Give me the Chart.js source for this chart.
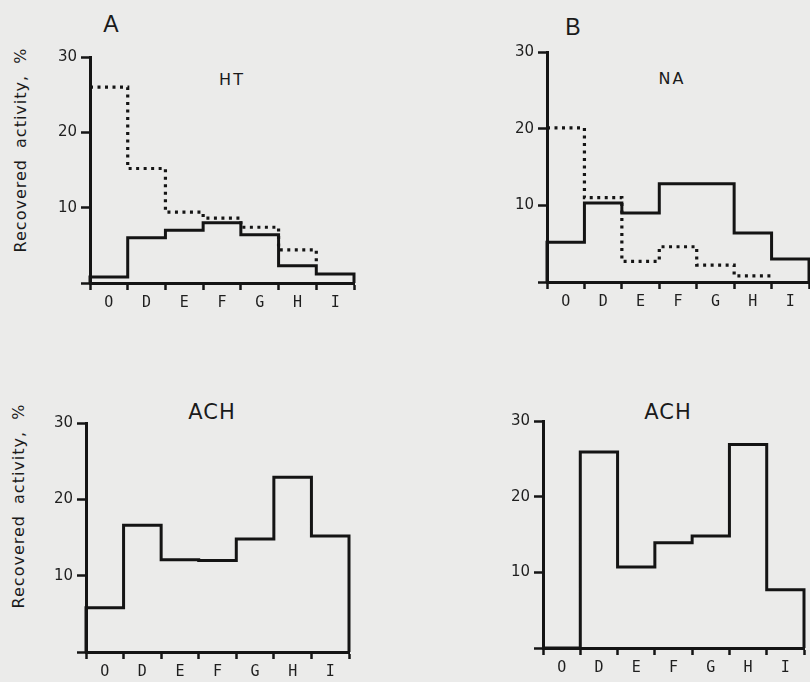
<!DOCTYPE html>
<html lang="en">
<head>
  <meta charset="UTF-8" />
  <title>Recovered activity by fraction</title>
  <script src="https://cdn.jsdelivr.net/npm/chart.js"></script>
  <style>
    html, body {
      margin: 0;
      padding: 0;
      width: 810px;
      height: 682px;
      overflow: hidden;
      background-color: #ebebea;
      color: #1a1a1a;
      font-family: 'DejaVu Sans', sans-serif;
    }
    .panel { position: absolute; }
    .lbl {
      position: absolute;
      transform: translate(-50%, -50%);
      white-space: nowrap;
    }
    .ylabel {
      position: absolute;
      transform: translate(-50%, -50%) rotate(-90deg);
      white-space: nowrap;
      font-size: 16px;
      letter-spacing: 1px;
      word-spacing: 5px;
    }
    .letter { font-family: 'Liberation Sans Narrow', 'Liberation Sans', sans-serif; font-size: 23px; }
    .name-sm { font-size: 16px; letter-spacing: 2px; }
    .name-lg { font-size: 21px; letter-spacing: 1px; }
  </style>
</head>
<body>
  <div class="lbl letter" style="left:111px; top:24px;">A</div>
  <div class="lbl letter" style="left:573px; top:27px;">B</div>
  <div class="lbl name-sm" style="left:232px; top:79px;">HT</div>
  <div class="lbl name-sm" style="left:672px; top:78px;">NA</div>
  <div class="lbl name-lg" style="left:212px; top:412px;">ACH</div>
  <div class="lbl name-lg" style="left:668px; top:412px;">ACH</div>
  <div class="ylabel" style="left:20px; top:150px;">Recovered activity, %</div>
  <div class="ylabel" style="left:18px; top:506px;">Recovered activity, %</div>

  <div class="panel" id="boxA"><canvas id="chartA"></canvas></div>
  <div class="panel" id="boxB"><canvas id="chartB"></canvas></div>
  <div class="panel" id="boxC"><canvas id="chartC"></canvas></div>
  <div class="panel" id="boxD"><canvas id="chartD"></canvas></div>

  <script>
    // fractions along the x axis
    const fractions = ['O', 'D', 'E', 'F', 'G', 'H', 'I'];
    const yTicks = [0, 10, 20, 30];

    // A: HT, solid and dotted profiles
    const htSolid = [0.8, 6.0, 7.0, 8.0, 6.4, 2.3, 1.2];
    const htDotted = [26.0, 15.2, 9.4, 8.6, 7.4, 4.4, null];

    // B: NA
    const naSolid = [5.2, 10.3, 9.0, 12.8, 12.8, 6.4, 3.0];
    const naDotted = [20.1, 11.0, 2.7, 4.6, 2.2, 0.8, null];

    // lower panels: ACH
    const achA = [5.8, 16.6, 12.1, 12.0, 14.8, 22.9, 15.2];
    const achB = [0, 25.9, 10.7, 13.9, 14.8, 26.9, 7.7];

    const INK = '#141414';
    const Y_W = 50, PAD_TOP = 20, PAD_R = 8, X_H = 36;

    // outline of a step histogram, one bin per fraction
    function stepPoints(vals, fromAxis, endLevel) {
      const pts = fromAxis ? [{ x: 0, y: 0 }] : [];
      let last = 0;
      vals.forEach((v, i) => {
        if (v !== null) { pts.push({ x: i, y: v }); last = i; }
      });
      pts.push({ x: last + 1, y: vals[last] });
      pts.push({ x: last + 1, y: endLevel });
      return pts;
    }

    function solid(vals) {
      return {
        data: stepPoints(vals, true, 0),
        stepped: 'before',
        borderColor: INK,
        borderWidth: 3,
        pointRadius: 0,
        fill: false,
        clip: false
      };
    }

    function dotted(vals, endLevel) {
      return {
        data: stepPoints(vals, false, endLevel),
        stepped: 'before',
        borderColor: INK,
        borderWidth: 3.2,
        borderDash: [3, 4.5],
        borderCapStyle: 'butt',
        pointRadius: 0,
        fill: false,
        clip: false
      };
    }

    function makePanel(id, area, sets) {
      const box = document.getElementById('box' + id);
      const w = area.right - area.left + Y_W + PAD_R;
      const h = area.bottom - area.top + PAD_TOP + X_H;
      box.style.left = (area.left - Y_W) + 'px';
      box.style.top = (area.top - PAD_TOP) + 'px';
      box.style.width = w + 'px';
      box.style.height = h + 'px';

      new Chart(document.getElementById('chart' + id), {
        type: 'line',
        data: { datasets: sets },
        options: {
          responsive: true,
          maintainAspectRatio: false,
          animation: false,
          layout: { padding: { top: PAD_TOP, right: PAD_R, left: 0, bottom: 0 } },
          plugins: { legend: { display: false }, tooltip: { enabled: false } },
          scales: {
            x: {
              type: 'linear',
              min: 0,
              max: fractions.length,
              afterFit: s => { s.height = X_H; },
              afterBuildTicks: s => {
                const t = [];
                for (let i = 0; i <= fractions.length; i++) t.push({ value: i });
                fractions.forEach((f, i) => t.push({ value: i + 0.5 }));
                s.ticks = t.sort((a, b) => a.value - b.value);
              },
              border: { display: true, color: INK, width: 3 },
              grid: {
                drawOnChartArea: false,
                tickLength: 7,
                tickWidth: 2.5,
                tickColor: c => (c.tick && Number.isInteger(c.tick.value)) ? INK : 'rgba(0,0,0,0)'
              },
              ticks: {
                autoSkip: false,
                maxRotation: 0,
                padding: 4,
                color: '#1f1f1f',
                font: { family: 'DejaVu Sans Mono', size: 15 },
                callback: v => Number.isInteger(v) ? '' : fractions[Math.floor(v)]
              }
            },
            y: {
              min: 0,
              max: 30,
              afterFit: s => { s.width = Y_W; },
              afterBuildTicks: s => { s.ticks = yTicks.map(v => ({ value: v })); },
              border: { display: true, color: INK, width: 3 },
              grid: { drawOnChartArea: false, tickLength: 9, tickWidth: 2.5, tickColor: INK },
              ticks: {
                padding: 4,
                color: '#1f1f1f',
                font: { family: 'DejaVu Sans', size: 15 },
                callback: v => v === 0 ? '' : v
              }
            }
          }
        }
      });
    }

    makePanel('A', { left: 90, top: 57, right: 354, bottom: 283 },
      [dotted(htDotted, htSolid[5]), solid(htSolid)]);
    makePanel('B', { left: 547, top: 52, right: 809, bottom: 282 },
      [dotted(naDotted, naDotted[5]), solid(naSolid)]);
    makePanel('C', { left: 86, top: 423, right: 349, bottom: 652 },
      [solid(achA)]);
    makePanel('D', { left: 543, top: 421, right: 804, bottom: 648 },
      [solid(achB)]);
  </script>
</body>
</html>
